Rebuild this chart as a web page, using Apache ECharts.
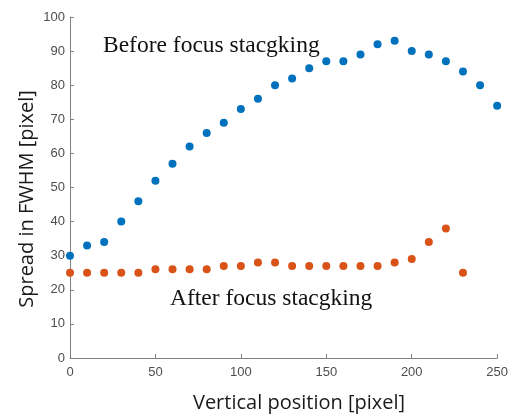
<!DOCTYPE html>
<html><head><meta charset="utf-8">
<script src="https://cdn.jsdelivr.net/npm/echarts@6/dist/echarts.min.js"></script>
<style>html,body{margin:0;padding:0;background:#fff}#c{width:511px;height:417px}</style>
</head><body><div id="c"></div>
<script>
const xBefore = [0,10,20,30,40,50,60,70,80,90,100,110,120,130,140,150,160,170,180,190,200,210,220,230,240,250];
const yBefore = [30,33,34,40,46,52,57,62,66,69,73,76,80,82,85,87,87,89,92,93,90,89,87,84,80,74];
const xAfter = [0,10,20,30,40,50,60,70,80,90,100,110,120,130,140,150,160,170,180,190,200,210,220,230];
const yAfter = [25,25,25,25,25,26,26,26,26,27,27,28,28,27,27,27,27,27,27,28,29,34,38,25];
const labelBefore = 'Before focus stacgking';
const labelAfter = 'After focus stacgking';
const xName = 'Vertical position [pixel]';
const yName = 'Spread in FWHM [pixel]';

const chart = echarts.init(document.getElementById('c'));
const axisCommon = {
  axisLine:{show:true,lineStyle:{color:'#808080',width:1}},
  axisTick:{show:true,inside:true,length:4,lineStyle:{color:'#808080'}},
  splitLine:{show:false},
  axisLabel:{color:'#4d4d4d',fontSize:13,fontFamily:'Liberation Sans, Arial'}
};
chart.setOption({
  animation:false,
  grid:{left:70,right:10,top:17,bottom:59},
  xAxis:Object.assign({type:'value',min:0,max:250,interval:50},axisCommon),
  yAxis:Object.assign({type:'value',min:0,max:100,interval:10},axisCommon,{
    axisLabel:{color:'#4d4d4d',fontSize:13,fontFamily:'Liberation Sans, Arial',margin:5}}),
  series:[
    {type:'scatter',symbolSize:8,itemStyle:{color:'#0072BD',opacity:1},data:xBefore.map((x,i)=>[x,yBefore[i]])},
    {type:'scatter',symbolSize:8,itemStyle:{color:'#D95319',opacity:1},data:xAfter.map((x,i)=>[x,yAfter[i]])}
  ],
  graphic:[
    {type:'text',x:103,y:46,style:{text:labelBefore,font:'23.5px "Liberation Serif"',fill:'#111',verticalAlign:'middle'}},
    {type:'text',x:170,y:299,style:{text:labelAfter,font:'23.5px "Liberation Serif"',fill:'#111',verticalAlign:'middle'}},
    {type:'text',x:299,y:403,style:{text:xName,font:'20px "Open Sans"',fill:'#1a1a1a',align:'center',verticalAlign:'middle'}},
    {type:'text',x:27,y:199,rotation:Math.PI/2,style:{text:yName,font:'20px "Open Sans"',fill:'#1a1a1a',align:'center',verticalAlign:'middle'}}
  ]
});
</script></body></html>
